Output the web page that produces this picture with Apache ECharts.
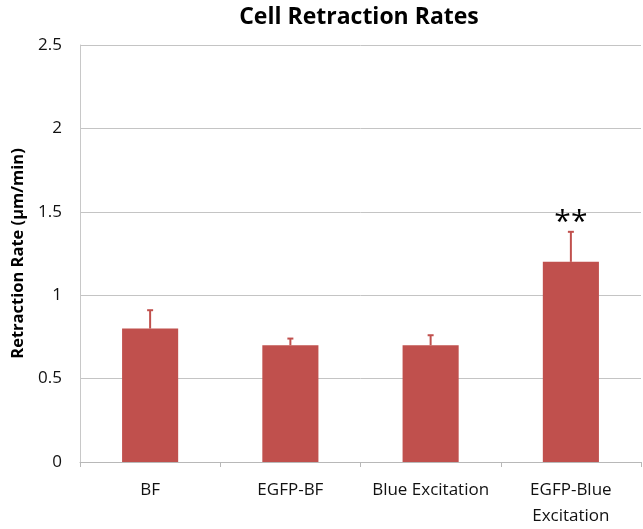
<!DOCTYPE html>
<html>
<head>
<meta charset="utf-8">
<script src="https://cdn.jsdelivr.net/npm/echarts@6/dist/echarts.min.js"></script>
<style>
  html, body { margin: 0; padding: 0; background: #ffffff; }
  #chart { width: 643px; height: 529px; }
</style>
</head>
<body>
<div id="chart"></div>
<script>
// Retraction rates per imaging condition (µm/min), mean and upper error
const categories = ['BF', 'EGFP-BF', 'Blue Excitation', 'EGFP-Blue\nExcitation'];
const rates = [0.80, 0.70, 0.70, 1.20];
const errors = [0.11, 0.04, 0.06, 0.18];
const significance = ['', '', '', '**'];
const yTicks = [0, 0.5, 1, 1.5, 2, 2.5];

const FONT = '"Open Sans", "Liberation Sans", sans-serif';
const BAR_RED = '#C0504D';

const chart = echarts.init(document.getElementById('chart'), null, { renderer: 'canvas' });

chart.setOption({
  backgroundColor: '#ffffff',
  animation: false,
  title: {
    text: 'Cell Retraction Rates',
    left: 354,
    textAlign: 'center',
    top: 1,
    textStyle: { fontFamily: FONT, fontSize: 23, fontWeight: 'bold', color: '#000' }
  },
  grid: { left: 80, right: 2, top: 45, bottom: 64 },
  xAxis: {
    type: 'category',
    data: categories,
    axisLine: { lineStyle: { color: '#b8b8b8', width: 1 } },
    axisTick: { show: true, length: 5, lineStyle: { color: '#b8b8b8' } },
    axisLabel: {
      interval: 0,
      hideOverlap: false,
      fontFamily: FONT, fontSize: 17, color: '#111', margin: 15, lineHeight: 26
    }
  },
  yAxis: {
    type: 'value',
    min: yTicks[0],
    max: yTicks[yTicks.length - 1],
    interval: 0.5,
    name: 'Retraction Rate (µm/min)',
    nameLocation: 'middle',
    nameGap: 52,
    nameTextStyle: { fontFamily: FONT, fontSize: 16.5, fontWeight: 'bold', color: '#000' },
    axisLine: { show: true, lineStyle: { color: '#c8c8c8', width: 1 } },
    axisTick: { show: false },
    splitLine: { lineStyle: { color: '#c4c4c4', width: 1 } },
    axisLabel: { fontFamily: FONT, fontSize: 17, color: '#111', margin: 18 }
  },
  series: [
    {
      type: 'bar',
      data: rates,
      barWidth: '40%',
      itemStyle: { color: BAR_RED },
      z: 2
    },
    {
      // upward error whiskers with caps, plus significance marks
      type: 'custom',
      z: 3,
      data: rates.map((v, i) => [i, v, v + errors[i]]),
      renderItem: function (params, api) {
        const i = api.value(0);
        const base = api.coord([i, api.value(1)]);
        const top = api.coord([i, api.value(2)]);
        const cap = 3;
        const children = [
          {
            type: 'line',
            shape: { x1: base[0], y1: base[1], x2: top[0], y2: top[1] },
            style: { stroke: BAR_RED, lineWidth: 2 }
          },
          {
            type: 'line',
            shape: { x1: top[0] - cap, y1: top[1], x2: top[0] + cap, y2: top[1] },
            style: { stroke: BAR_RED, lineWidth: 2 }
          }
        ];
        const mark = significance[params.dataIndex];
        if (mark) {
          children.push({
            type: 'text',
            style: {
              text: mark,
              x: top[0],
              y: top[1] + 6,
              align: 'center',
              verticalAlign: 'bottom',
              fontFamily: FONT,
              fontSize: 30,
              fontWeight: 'normal',
              fill: '#000'
            }
          });
        }
        return { type: 'group', children: children };
      }
    }
  ]
});
</script>
</body>
</html>
